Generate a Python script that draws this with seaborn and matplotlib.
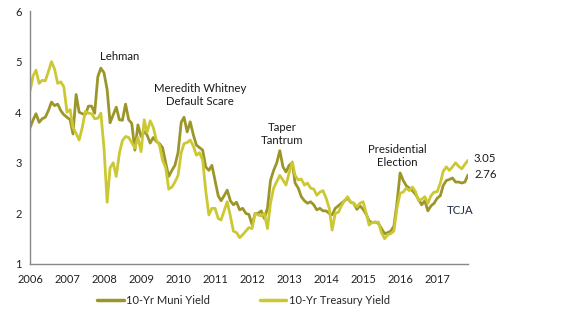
import numpy as np
import pandas as pd
import matplotlib
matplotlib.use("Agg")
import matplotlib.pyplot as plt
import matplotlib.dates as mdates
import seaborn as sns

sns.set_theme(style="white")
plt.rcParams['font.family'] = ['Lato', 'DejaVu Sans']

muni = [3.69, 3.85, 3.97, 3.80, 3.87, 3.90, 4.03, 4.20, 4.13, 4.16,
        4.03, 3.95, 3.90, 3.85, 3.57, 4.35, 4.00, 3.97, 3.95, 4.12,
        4.12, 3.98, 4.70, 4.87, 4.78, 4.45, 3.79, 3.95, 4.10, 3.85,
        3.84, 4.16, 3.85, 3.78, 3.25, 3.75, 3.52, 3.62, 3.55, 3.39,
        3.50, 3.42, 3.38, 3.30, 3.00, 2.73, 2.85, 2.95, 3.20, 3.80,
        3.90, 3.61, 3.81, 3.55, 3.35, 3.30, 3.25, 2.92, 2.85, 2.95,
        2.65, 2.35, 2.25, 2.35, 2.46, 2.25, 2.17, 2.22, 2.07, 2.10,
        2.00, 1.98, 1.78, 2.00, 2.00, 2.05, 1.90, 2.10, 2.65, 2.85,
        3.00, 3.24, 2.92, 2.82, 2.95, 3.00, 2.60, 2.50, 2.33, 2.25,
        2.20, 2.23, 2.17, 2.07, 2.10, 2.05, 2.05, 2.00, 1.97, 2.10,
        2.15, 2.20, 2.25, 2.30, 2.22, 2.20, 2.08, 2.15, 2.08, 1.98,
        1.85, 1.82, 1.83, 1.80, 1.70, 1.60, 1.62, 1.65, 1.75, 2.20,
        2.80, 2.65, 2.55, 2.50, 2.45, 2.38, 2.28, 2.17, 2.25, 2.05,
        2.15, 2.20, 2.30, 2.35, 2.55, 2.65, 2.67, 2.70, 2.62, 2.62,
        2.60, 2.62, 2.76]

treasury = [4.42, 4.72, 4.83, 4.57, 4.63, 4.62, 4.80, 5.00, 4.85, 4.57,
            4.60, 4.50, 4.00, 4.05, 3.70, 3.58, 3.45, 3.70, 4.02, 3.98,
            3.97, 3.87, 3.88, 3.98, 3.30, 2.22, 2.90, 3.00, 2.73, 3.19,
            3.44, 3.52, 3.50, 3.40, 3.29, 3.50, 3.22, 3.85, 3.60, 3.83,
            3.70, 3.45, 3.35, 3.05, 2.90, 2.48, 2.52, 2.62, 2.75, 3.20,
            3.38, 3.40, 3.45, 3.33, 3.15, 3.20, 3.05, 2.45, 1.97, 2.10,
            2.10, 1.90, 1.87, 2.05, 2.23, 1.95, 1.65, 1.62, 1.52, 1.58,
            1.65, 1.72, 1.70, 2.00, 1.97, 1.95, 2.00, 1.70, 2.20, 2.50,
            2.63, 2.75, 2.66, 2.56, 2.80, 3.02, 2.75, 2.66, 2.68, 2.56,
            2.60, 2.50, 2.48, 2.36, 2.42, 2.45, 2.30, 2.10, 1.67, 2.00,
            2.02, 2.15, 2.25, 2.33, 2.22, 2.20, 2.13, 2.20, 2.23, 2.00,
            1.77, 1.82, 1.82, 1.83, 1.62, 1.50, 1.58, 1.60, 1.65, 2.10,
            2.40, 2.42, 2.50, 2.45, 2.52, 2.43, 2.25, 2.28, 2.33, 2.20,
            2.35, 2.42, 2.43, 2.60, 2.83, 2.92, 2.85, 2.92, 3.00, 2.93,
            2.88, 2.97, 3.05]

series_names = ["10-Yr Muni Yield", "10-Yr Treasury Yield"]
colors = ["#9C962A", "#CCC833"]
years = list(range(2006, 2018))
events = ["Lehman", "Meredith Whitney\nDefault Scare", "Taper\nTantrum",
          "Presidential\nElection", "TCJA"]

dates = pd.date_range("2006-01-01", periods=len(muni), freq="MS")
df = pd.concat([
    pd.DataFrame({"date": dates, "value": muni, "series": series_names[0]}),
    pd.DataFrame({"date": dates, "value": treasury, "series": series_names[1]}),
])

fig = plt.figure(figsize=(5.66, 3.21), dpi=100)
ax = fig.add_axes([30/566, 1-264/321, 438/566, 253/321])

sns.lineplot(data=df, x="date", y="value", hue="series",
             palette=dict(zip(series_names, colors)), linewidth=2.0,
             ax=ax, legend=False)

ax.set_xlim(dates[0], dates[-1])
ax.set_ylim(1, 6)
ax.set_yticks([1, 2, 3, 4, 5, 6])
ax.set_xticks([pd.Timestamp(f"{y}-01-01") for y in years])
ax.xaxis.set_major_formatter(mdates.DateFormatter("%Y"))
ax.set_xlabel("")
ax.set_ylabel("")
for s in ["top", "right"]:
    ax.spines[s].set_visible(False)
for s in ["left", "bottom"]:
    ax.spines[s].set_color("#888888")
    ax.spines[s].set_linewidth(1.0)
ax.tick_params(axis="both", which="both", direction="out", length=4,
               color="#888888", labelsize=8, labelcolor="#222222", pad=2)
ax.tick_params(axis="x", pad=3)
ax.grid(False)

tc = "#1a1a1a"
fs = 8.2
for txt, (px, py) in zip(events[:4], [(120, 57), (200, 95), (282, 134), (397, 156)]):
    fig.text(px/566, 1-py/321, txt, ha="center", va="center", fontsize=fs,
             color=tc, linespacing=1.15)
fig.text(460/566, 1-210/321, events[4], ha="center", va="center", fontsize=fs,
         color="#1f2a44")
fig.text(474/566, 1-158/321, f"{treasury[-1]:.2f}", ha="left", va="center",
         fontsize=fs, color=tc)
fig.text(474/566, 1-175/321, f"{muni[-1]:.2f}", ha="left", va="center",
         fontsize=fs, color=tc)

handles = [plt.Line2D([], [], color=c, linewidth=2.5) for c in colors]
fig.legend(handles, series_names, loc="center", bbox_to_anchor=(0.43, 1-300/321),
           ncol=2, frameon=False, fontsize=8, handlelength=2.4,
           columnspacing=4.5, handletextpad=0.2)

fig.savefig("out.png", dpi=100)
